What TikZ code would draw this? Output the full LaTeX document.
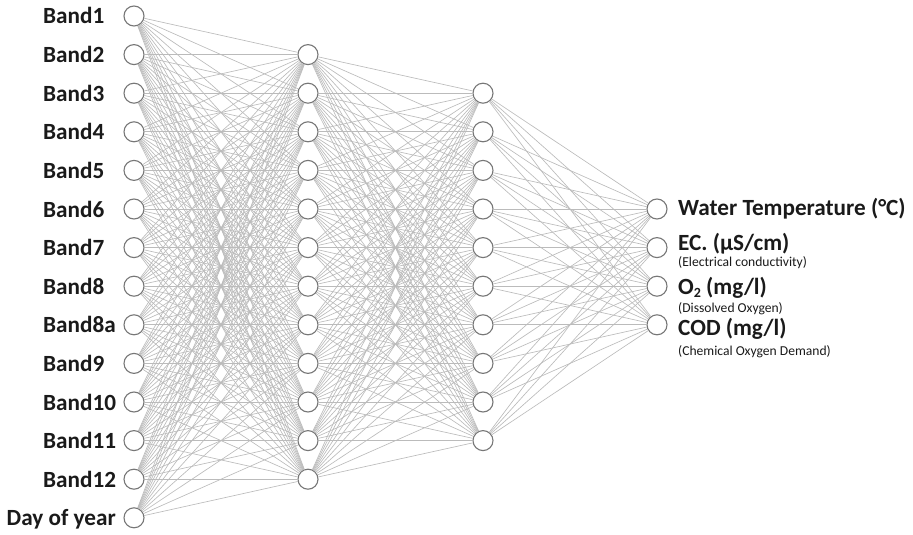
\documentclass[tikz,border=0pt]{standalone}
\usepackage{fontspec}
\setmainfont{Carlito}
\definecolor{edgec}{HTML}{BBBBBB}
\definecolor{circc}{HTML}{777777}
\definecolor{txtc}{HTML}{1A1A1A}
\begin{document}
\begin{tikzpicture}[x=1pt,y=-1pt,
 neuron/.style={circle,draw=circc,fill=white,line width=1.1pt,minimum size=20pt,inner sep=0pt},
 conn/.style={draw=edgec,line width=0.65pt},
 biglab/.style={anchor=base west,inner sep=0pt,text=txtc,font=\fontsize{23.2}{27}\selectfont\bfseries},
 smalllab/.style={anchor=base west,inner sep=0pt,text=txtc,font=\fontsize{13.6}{15}\selectfont}]
\useasboundingbox (0,0) rectangle (913,535);
\foreach \k in {0,...,13} \node[neuron] (a\k) at (134,{16+38.6*\k}) {};
\foreach \k in {1,...,12} \node[neuron] (b\k) at (308,{16+38.6*\k}) {};
\foreach \k in {2,...,11} \node[neuron] (c\k) at (483,{16+38.6*\k}) {};
\foreach \k in {5,...,8} \node[neuron] (d\k) at (657,{16+38.6*\k}) {};
\foreach \i in {0,...,13}{\foreach \j in {1,...,12}{\draw[conn] (a\i) -- (b\j);}}
\foreach \i in {1,...,12}{\foreach \j in {2,...,11}{\draw[conn] (b\i) -- (c\j);}}
\foreach \i in {2,...,11}{\foreach \j in {5,...,8}{\draw[conn] (c\i) -- (d\j);}}
\foreach \k/\t in {0/Band1,1/Band2,2/Band3,3/Band4,4/Band5,5/Band6,6/Band7,7/Band8,8/Band8a,9/Band9,10/Band10,11/Band11,12/Band12}
  \node[biglab] (l\k) at (43,{16+38.6*\k+8}) {\t};
\node[biglab,anchor=base east] (l13) at (116,{16+38.6*13+8}) {Day of year};
\node[biglab] (r1) at (678,215) {Water Temperature (°C)};
\node[biglab] (r2) at (678,250) {EC. (µS/cm)};
\node[smalllab] (s2) at (678,266) {(Electrical conductivity)};
\node[biglab] (r3) at (678,294) {O\raisebox{-3pt}{\fontsize{14}{14}\selectfont 2} (mg/l)};
\node[smalllab] (s3) at (678,312) {(Dissolved Oxygen)};
\node[biglab] (r4) at (678,335) {COD (mg/l)};
\node[smalllab] (s4) at (678,355) {(Chemical Oxygen Demand)};
\end{tikzpicture}
\end{document}
